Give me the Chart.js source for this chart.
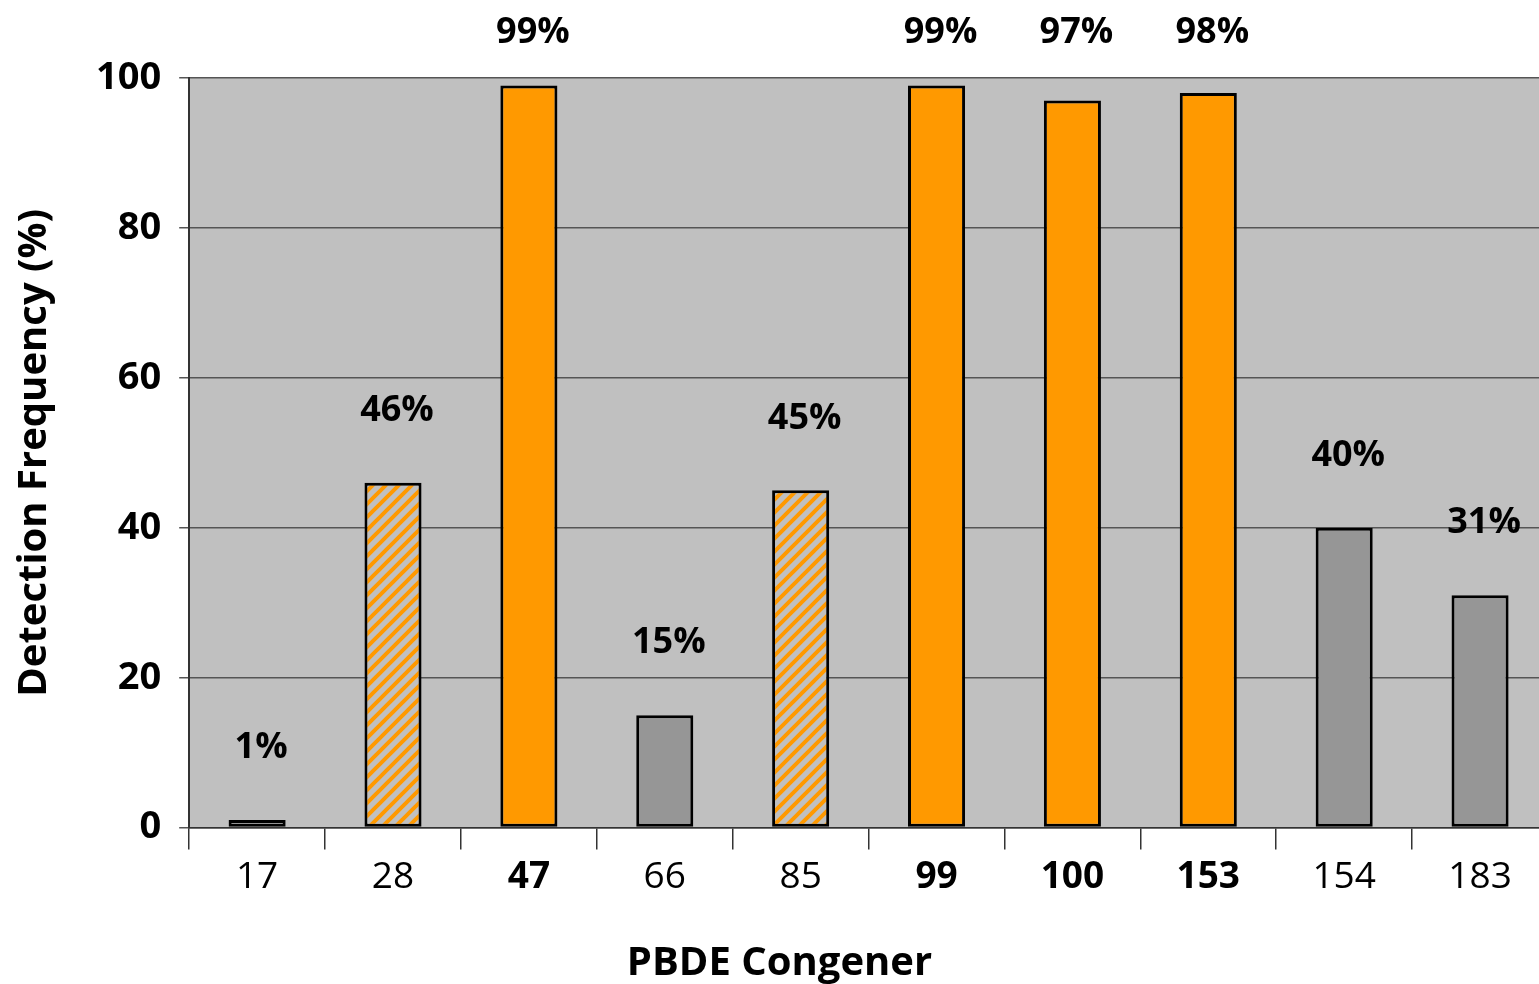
<!DOCTYPE html>
<html lang="en">
<head>
    <meta charset="UTF-8">
    <title>PBDE Detection Frequency</title>
    <script src="https://cdn.jsdelivr.net/npm/chart.js"></script>
    <style>
        html, body { margin: 0; padding: 0; background: #fff; overflow: hidden; }
        .chart-container {
            width: 1552px;
            height: 984px;
        }
    </style>
</head>
<body>
    <div class="chart-container">
        <canvas id="pbdeChart"></canvas>
    </div>

    <script>
        // congeners and detection frequency (%)
        const congeners = ['17', '28', '47', '66', '85', '99', '100', '153', '154', '183'];
        const detection = [1, 46, 99, 15, 45, 99, 97, 98, 40, 31];
        // bar style per congener: solid orange, hatched orange, or gray
        const barKind = ['gray', 'hatch', 'orange', 'gray', 'hatch', 'orange', 'orange', 'orange', 'gray', 'gray'];
        const yTicks = [0, 20, 40, 60, 80, 100];

        const FONT = "'Open Sans', 'Noto Sans', sans-serif";

        // hatched fill: orange diagonal stripes on gray
        function makeHatch() {
            const c = document.createElement('canvas');
            c.width = 13; c.height = 13;
            const g = c.getContext('2d');
            g.fillStyle = '#c0c0c0';
            g.fillRect(0, 0, 13, 13);
            g.strokeStyle = '#ff9900';
            g.lineWidth = 4;
            g.beginPath();
            g.moveTo(-2, 15); g.lineTo(15, -2);
            g.moveTo(-8, 8); g.lineTo(8, -8);
            g.moveTo(5, 21); g.lineTo(21, 5);
            g.stroke();
            return g.createPattern(c, 'repeat');
        }
        const hatch = makeHatch();
        const fills = barKind.map(k => k === 'orange' ? '#ff9900' : (k === 'hatch' ? hatch : '#969696'));

        const plotBg = {
            id: 'plotBg',
            beforeDraw(chart) {
                const a = chart.chartArea, ctx = chart.ctx;
                ctx.save();
                ctx.fillStyle = '#c0c0c0';
                ctx.fillRect(a.left, a.top, a.right - a.left, a.bottom - a.top);
                ctx.restore();
            }
        };

        const barLabels = {
            id: 'barLabels',
            afterDatasetsDraw(chart) {
                const ctx = chart.ctx;
                const meta = chart.getDatasetMeta(0);
                ctx.save();
                ctx.font = 'bold 36px ' + FONT;
                ctx.fillStyle = '#000';
                ctx.textAlign = 'center';
                ctx.textBaseline = 'middle';
                meta.data.forEach((bar, i) => {
                    const y = Math.max(bar.y - 72, 33);
                    ctx.fillText(detection[i] + '%', bar.x + 4, y);
                });
                ctx.restore();
            }
        };

        const ctx = document.getElementById('pbdeChart').getContext('2d');
        new Chart(ctx, {
            type: 'bar',
            data: {
                labels: congeners,
                datasets: [{
                    data: detection,
                    backgroundColor: fills,
                    borderColor: '#000',
                    borderWidth: 3,
                    borderSkipped: false,
                    barPercentage: 0.42,
                    categoryPercentage: 1
                }]
            },
            options: {
                responsive: true,
                maintainAspectRatio: false,
                animation: false,
                layout: { padding: { top: 78, right: 4, left: 11, bottom: -4 } },
                plugins: {
                    legend: { display: false },
                    tooltip: { enabled: false },
                    // x axis title, centred on the whole figure
                    title: {
                        display: true,
                        position: 'bottom',
                        text: 'PBDE Congener',
                        color: '#000',
                        font: { family: FONT, size: 40, weight: 'bold' },
                        padding: { top: 34, bottom: 0 }
                    }
                },
                scales: {
                    x: {
                        grid: {
                            offset: true,
                            drawOnChartArea: false,
                            color: '#333',
                            tickLength: 22,
                            lineWidth: 1.5
                        },
                        border: { color: '#333', width: 1.5 },
                        ticks: {
                            color: '#000',
                            padding: 6,
                            font: c => ({
                                family: FONT,
                                size: 37,
                                weight: barKind[c.index] === 'orange' ? 'bold' : 'normal'
                            })
                        }
                    },
                    y: {
                        min: 0,
                        max: 100,
                        afterBuildTicks: axis => { axis.ticks = yTicks.map(v => ({ value: v })); },
                        grid: {
                            color: '#555',
                            lineWidth: 1.5,
                            tickLength: 10
                        },
                        border: { color: '#333', width: 2 },
                        ticks: {
                            color: '#000',
                            padding: 18,
                            font: { family: FONT, size: 38, weight: 'bold' }
                        },
                        title: {
                            display: true,
                            text: 'Detection Frequency (%)',
                            color: '#000',
                            font: { family: FONT, size: 40, weight: 'bold' },
                            padding: { top: 0, bottom: 19 }
                        }
                    }
                }
            },
            plugins: [plotBg, barLabels]
        });
    </script>
</body>
</html>
